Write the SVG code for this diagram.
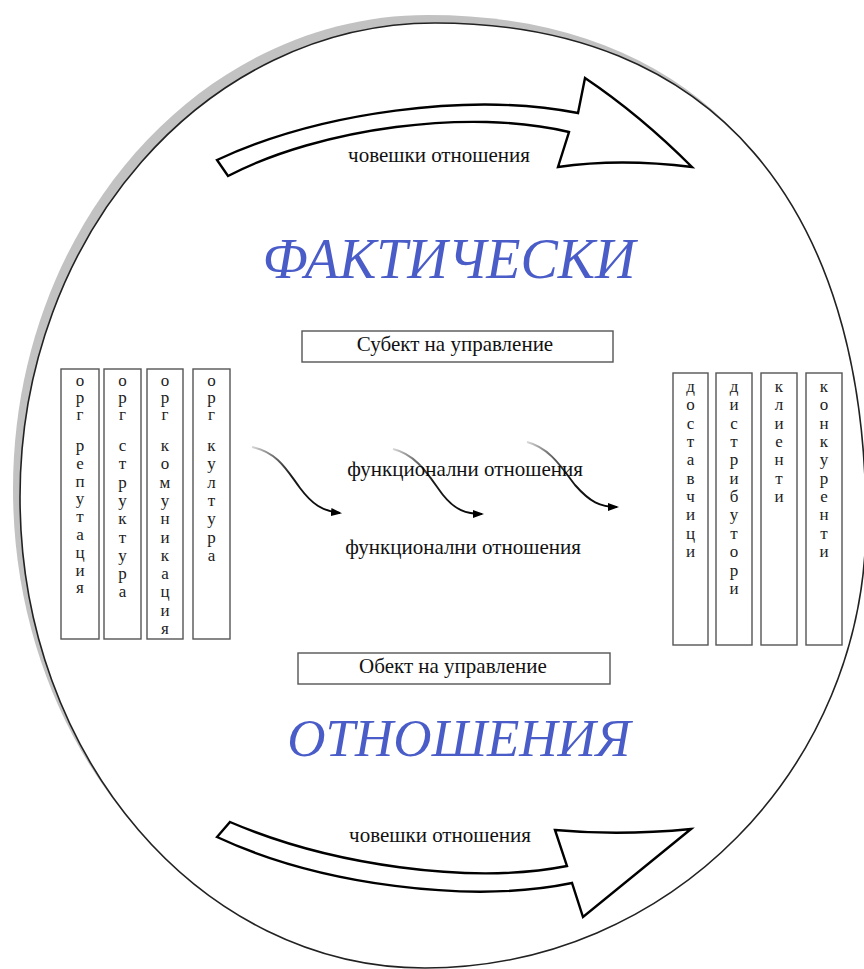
<svg xmlns="http://www.w3.org/2000/svg" width="864" height="969" viewBox="0 0 864 969">
<defs>
<style>
.serif{font-family:"Liberation Serif","Times New Roman",serif;fill:#111}
.big{font-family:"Liberation Serif","Times New Roman",serif;font-style:italic;fill:#4a5cc8;text-anchor:middle}
.box{fill:#fff;stroke:#555;stroke-width:1.4}
.blk{fill:#fff;stroke:#000;stroke-width:2.4;stroke-linejoin:miter}
.lt{font-family:"Liberation Serif","Times New Roman",serif;font-size:17px;fill:#222;text-anchor:middle}
.fl{fill:none;stroke-width:1.9}
</style>
<path id="egg" d="M435,23 C711,23 866,203 866,522 C866,768 669,968 425,968 C201,968 20,757 20,497 C20,235 206,23 435,23 Z"/>
<linearGradient id="fade" x1="0" y1="0" x2="1" y2="0">
<stop offset="0" stop-color="#000" stop-opacity="0.15"/>
<stop offset="0.45" stop-color="#000" stop-opacity="0.9"/>
<stop offset="1" stop-color="#000"/>
</linearGradient>
<marker id="ah" markerWidth="11" markerHeight="8" refX="9" refY="4" orient="auto" markerUnits="userSpaceOnUse">
<path d="M0,0 L11,4 L0,8 Z" fill="#000"/>
</marker>
</defs>
<rect width="864" height="969" fill="#fff"/>
<g id="frame">
<use href="#egg" transform="translate(-7,-8)" fill="#c2c2c2"/>
<use href="#egg" fill="#fff" stroke="#222" stroke-width="1.6"/>
</g>
<g id="arrow-top">
<path class="blk" d="M217,160 C320,112 470,92 578,113 L585,78 Q640,115 692,167 Q620,158 558,167 L569,132 C470,108 320,128 228,176 Z"/>
<text class="serif" x="439" y="162" font-size="21" text-anchor="middle">човешки отношения</text>
</g>
<g id="arrow-bottom">
<path class="blk" d="M230,822 C330,865 470,885 567,866 L555,830 Q620,836 691,829 L583,917 L572,883 C470,904 320,885 217,837 Z"/>
<text class="serif" x="440" y="842" font-size="21" text-anchor="middle">човешки отношения</text>
</g>
<text class="big" x="449" y="278" font-size="56">ФАКТИЧЕСКИ</text>
<text class="big" x="459" y="756" font-size="53">ОТНОШЕНИЯ</text>
<g id="subject">
<rect class="box" x="302" y="331" width="311" height="31"/>
<text class="serif" x="455" y="351" font-size="21" text-anchor="middle">Субект на управление</text>
</g>
<g id="object">
<rect class="box" x="298" y="653" width="312" height="31"/>
<text class="serif" x="453" y="673" font-size="21" text-anchor="middle">Обект на управление</text>
</g>
<g id="org-reputacia">
<rect class="box" x="61" y="369" width="38" height="270"/>
<text class="lt"><tspan x="80" y="386">о</tspan><tspan x="80" y="403">р</tspan><tspan x="80" y="420">г</tspan><tspan x="80" y="451">р</tspan><tspan x="80" dy="17.8">е</tspan><tspan x="80" dy="17.8">п</tspan><tspan x="80" dy="17.8">у</tspan><tspan x="80" dy="17.8">т</tspan><tspan x="80" dy="17.8">а</tspan><tspan x="80" dy="17.8">ц</tspan><tspan x="80" dy="17.8">и</tspan><tspan x="80" dy="17.8">я</tspan></text>
</g>
<g id="org-struktura">
<rect class="box" x="104" y="369" width="37" height="270"/>
<text class="lt"><tspan x="122.5" y="386">о</tspan><tspan x="122.5" y="403">р</tspan><tspan x="122.5" y="420">г</tspan><tspan x="122.5" y="451">с</tspan><tspan x="122.5" dy="18.3">т</tspan><tspan x="122.5" dy="18.3">р</tspan><tspan x="122.5" dy="18.3">у</tspan><tspan x="122.5" dy="18.3">к</tspan><tspan x="122.5" dy="18.3">т</tspan><tspan x="122.5" dy="18.3">у</tspan><tspan x="122.5" dy="18.3">р</tspan><tspan x="122.5" dy="18.3">а</tspan></text>
</g>
<g id="org-komunikacia">
<rect class="box" x="147" y="369" width="36" height="270"/>
<text class="lt"><tspan x="165" y="386">о</tspan><tspan x="165" y="403">р</tspan><tspan x="165" y="420">г</tspan><tspan x="165" y="451">к</tspan><tspan x="165" dy="18.3">о</tspan><tspan x="165" dy="18.3">м</tspan><tspan x="165" dy="18.3">у</tspan><tspan x="165" dy="18.3">н</tspan><tspan x="165" dy="18.3">и</tspan><tspan x="165" dy="18.3">к</tspan><tspan x="165" dy="18.3">а</tspan><tspan x="165" dy="18.3">ц</tspan><tspan x="165" dy="18.3">и</tspan><tspan x="165" dy="18.3">я</tspan></text>
</g>
<g id="org-kultura">
<rect class="box" x="193" y="369" width="37" height="270"/>
<text class="lt"><tspan x="211.5" y="386">о</tspan><tspan x="211.5" y="403">р</tspan><tspan x="211.5" y="420">г</tspan><tspan x="211.5" y="451">к</tspan><tspan x="211.5" dy="18.3">у</tspan><tspan x="211.5" dy="18.3">л</tspan><tspan x="211.5" dy="18.3">т</tspan><tspan x="211.5" dy="18.3">у</tspan><tspan x="211.5" dy="18.3">р</tspan><tspan x="211.5" dy="18.3">а</tspan></text>
</g>
<g id="dostavchici">
<rect class="box" x="673" y="373" width="35" height="272"/>
<text class="lt"><tspan x="690.5" y="392">д</tspan><tspan x="690.5" dy="18.35">о</tspan><tspan x="690.5" dy="18.35">с</tspan><tspan x="690.5" dy="18.35">т</tspan><tspan x="690.5" dy="18.35">а</tspan><tspan x="690.5" dy="18.35">в</tspan><tspan x="690.5" dy="18.35">ч</tspan><tspan x="690.5" dy="18.35">и</tspan><tspan x="690.5" dy="18.35">ц</tspan><tspan x="690.5" dy="18.35">и</tspan></text>
</g>
<g id="distributori">
<rect class="box" x="716" y="373" width="36" height="272"/>
<text class="lt"><tspan x="734" y="392">д</tspan><tspan x="734" dy="18.35">и</tspan><tspan x="734" dy="18.35">с</tspan><tspan x="734" dy="18.35">т</tspan><tspan x="734" dy="18.35">р</tspan><tspan x="734" dy="18.35">и</tspan><tspan x="734" dy="18.35">б</tspan><tspan x="734" dy="18.35">у</tspan><tspan x="734" dy="18.35">т</tspan><tspan x="734" dy="18.35">о</tspan><tspan x="734" dy="18.35">р</tspan><tspan x="734" dy="18.35">и</tspan></text>
</g>
<g id="klienti">
<rect class="box" x="761" y="373" width="36" height="272"/>
<text class="lt"><tspan x="779" y="392">к</tspan><tspan x="779" dy="18.35">л</tspan><tspan x="779" dy="18.35">и</tspan><tspan x="779" dy="18.35">е</tspan><tspan x="779" dy="18.35">н</tspan><tspan x="779" dy="18.35">т</tspan><tspan x="779" dy="18.35">и</tspan></text>
</g>
<g id="konkurenti">
<rect class="box" x="806" y="373" width="36" height="272"/>
<text class="lt"><tspan x="824" y="392">к</tspan><tspan x="824" dy="18.35">о</tspan><tspan x="824" dy="18.35">н</tspan><tspan x="824" dy="18.35">к</tspan><tspan x="824" dy="18.35">у</tspan><tspan x="824" dy="18.35">р</tspan><tspan x="824" dy="18.35">е</tspan><tspan x="824" dy="18.35">н</tspan><tspan x="824" dy="18.35">т</tspan><tspan x="824" dy="18.35">и</tspan></text>
</g>
<text class="serif" x="465" y="476" font-size="21" text-anchor="middle">функционални отношения</text>
<text class="serif" x="463" y="554" font-size="21" text-anchor="middle">функционални отношения</text>
<g id="connectors">
<path class="fl" stroke="url(#fade)" marker-end="url(#ah)" d="M252,447 C278,452 288,472 300,488 C312,504 322,511 340,513"/>
<path class="fl" stroke="url(#fade)" marker-end="url(#ah)" d="M393,449 C418,455 430,478 443,495 C455,510 466,514 482,514"/>
<path class="fl" stroke="url(#fade)" marker-end="url(#ah)" d="M527,442 C550,448 562,468 575,485 C590,502 600,507 617,507"/>
</g>
</svg>
